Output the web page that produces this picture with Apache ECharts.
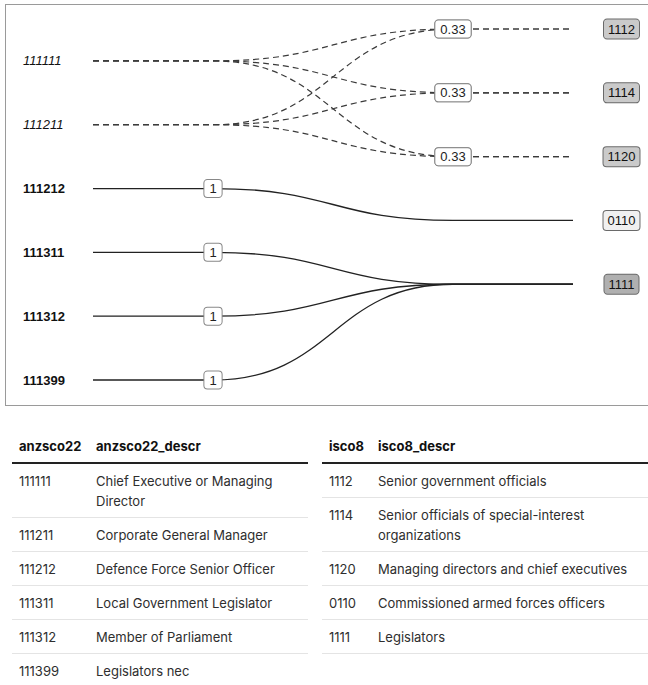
<!DOCTYPE html>
<html>
<head>
<meta charset="utf-8">
<script src="https://cdn.jsdelivr.net/npm/echarts@6/dist/echarts.min.js"></script>
<style>
  html, body { margin: 0; padding: 0; background: #fff; }
  body { width: 648px; height: 685px; overflow: hidden; position: relative; }
  #frame { position: absolute; left: 5px; top: 4px; width: 650px; height: 400px; border: 1px solid #9a9a9a; }
  #chart { width: 650px; height: 400px; }
  table { position: absolute; top: 428px; border-collapse: collapse; table-layout: fixed;
          font-family: Inter, "Liberation Sans", sans-serif; font-size: 13px; color: #2e2e2e; }
  th { text-align: left; font-weight: 700; color: #111; padding: 8px 7px 6px 7px; line-height: 20px;
       border-bottom: 2px solid #222; }
  td { padding: 7px 7px 6px 7px; line-height: 20px; vertical-align: top; border-bottom: 1px solid #e4e4e4; }
  #left { left: 12px; width: 296px; }
  #right { left: 322px; width: 340px; }
</style>
</head>
<body>
<div id="frame"><div id="chart"></div></div>
<table id="left"><colgroup><col style="width:77px"><col style="width:219px"></colgroup></table>
<table id="right"><colgroup><col style="width:49px"><col style="width:291px"></colgroup></table>
<script>
// classification codes on each side
var sourceCodes = ['111111', '111211', '111212', '111311', '111312', '111399'];
var sourceDescr = ['Chief Executive or Managing Director', 'Corporate General Manager',
    'Defence Force Senior Officer', 'Local Government Legislator', 'Member of Parliament', 'Legislators nec'];
var targetCodes = ['1112', '1114', '1120', '0110', '1111'];
var targetDescr = ['Senior government officials', 'Senior officials of special-interest organizations',
    'Managing directors and chief executives', 'Commissioned armed forces officers', 'Legislators'];

// crosswalk links
var linkFrom = ['111111', '111111', '111111', '111211', '111211', '111211', '111212', '111311', '111312', '111399'];
var linkTo = ['1112', '1114', '1120', '1112', '1114', '1120', '0110', '1111', '1111', '1111'];
var linkWeight = [0.33, 0.33, 0.33, 0.33, 0.33, 0.33, 1, 1, 1, 1];

var FONT = '"Liberation Sans", Arial, sans-serif';
// curve runs between the two weight label slots (x in 0..100)
var CURVE_START = 25, CURVE_END = 75;
var shades = ['#f0f0f0', '#cacaca', '#b0b0b0'];

function fillTable(id, head, codes, descr) {
    var t = document.getElementById(id);
    var html = '<thead><tr><th>' + head[0] + '</th><th>' + head[1] + '</th></tr></thead><tbody>';
    for (var i = 0; i < codes.length; i++) {
        html += '<tr><td>' + codes[i] + '</td><td>' + descr[i] + '</td></tr>';
    }
    t.insertAdjacentHTML('beforeend', html + '</tbody>');
}
fillTable('left', ['anzsco22', 'anzsco22_descr'], sourceCodes, sourceDescr);
fillTable('right', ['isco8', 'isco8_descr'], targetCodes, targetDescr);

// targets sit half a row above the sources
function targetY(j) { return j - 0.5; }

var links = linkFrom.map(function (s, k) {
    return [sourceCodes.indexOf(s), targetCodes.indexOf(linkTo[k]), linkWeight[k]];
});
var outCount = sourceCodes.map(function (s) {
    return linkFrom.filter(function (f) { return f === s; }).length;
});
var inCount = targetCodes.map(function (t) {
    return linkTo.filter(function (f) { return f === t; }).length;
});

function renderLink(params, api) {
    var s = api.value(0), t = api.value(1), w = api.value(2);
    var a = api.coord([0, s]), b = api.coord([CURVE_START, s]);
    var c = api.coord([CURVE_END, targetY(t)]), d = api.coord([100, targetY(t)]);
    var mx = (b[0] + c[0]) / 2;
    var style = {
        fill: null, stroke: w < 1 ? '#3a3a3a' : '#222', lineWidth: w < 1 ? 1.2 : 1.3,
        lineDash: w < 1 ? [6, 4] : null
    };
    return {
        type: 'group',
        children: [{
            type: 'path',
            shape: {
                pathData: 'M' + a[0] + ' ' + a[1] + 'L' + b[0] + ' ' + b[1] +
                    'C' + mx + ' ' + b[1] + ' ' + mx + ' ' + c[1] + ' ' + c[0] + ' ' + c[1]
            },
            style: style
        }, {
            // tail drawn apart so merged dashes stay in phase
            type: 'line',
            shape: {x1: c[0], y1: c[1], x2: d[0], y2: d[1]},
            style: style
        }]
    };
}

function renderWeight(params, api) {
    var s = api.value(0), t = api.value(1), w = api.value(2);
    var p = w < 1 ? api.coord([CURVE_END, targetY(t)]) : api.coord([CURVE_START, s]);
    return {
        type: 'text', x: p[0], y: p[1],
        style: {
            text: String(w), fill: '#222', fontSize: 13, fontFamily: FONT,
            align: 'center', verticalAlign: 'middle',
            backgroundColor: '#fff', borderColor: '#888', borderWidth: 1, borderRadius: 3, padding: [2, 5]
        }
    };
}

function renderSource(params, api) {
    var i = api.value(0);
    var p = api.coord([0, i]);
    var split = outCount[i] > 1;
    return {
        type: 'text', x: p[0] - 70, y: p[1],
        style: {
            text: sourceCodes[i], fill: '#111', fontFamily: FONT, fontSize: 13,
            fontStyle: split ? 'italic' : 'normal', fontWeight: split ? 'normal' : 'bold',
            align: 'left', verticalAlign: 'middle'
        }
    };
}

function renderTarget(params, api) {
    var j = api.value(0);
    var p = api.coord([100, targetY(j)]);
    return {
        type: 'text', x: p[0] + 48.5, y: p[1],
        style: {
            text: targetCodes[j], fill: '#111', fontSize: 13, fontFamily: FONT,
            align: 'center', verticalAlign: 'middle',
            backgroundColor: shades[Math.min(inCount[j], 3) - 1], borderColor: '#6a6a6a', borderWidth: 1,
            borderRadius: 3, padding: [3, 4]
        }
    };
}

var chart = echarts.init(document.getElementById('chart'), null, {renderer: 'svg'});
chart.setOption({
    animation: false,
    grid: {left: 87, top: 24, width: 480, height: 351},
    xAxis: {type: 'value', min: 0, max: 100, show: false},
    yAxis: {type: 'value', min: -0.5, max: 5, inverse: true, show: false},
    series: [
        {type: 'custom', name: 'links', renderItem: renderLink, data: links, z: 1, silent: true},
        {type: 'custom', name: 'weights', renderItem: renderWeight, data: links, z: 2, silent: true},
        {type: 'custom', name: 'sources', renderItem: renderSource,
            data: sourceCodes.map(function (c, i) { return [i, i]; }), z: 3, silent: true},
        {type: 'custom', name: 'targets', renderItem: renderTarget,
            data: targetCodes.map(function (c, j) { return [j, targetY(j)]; }), z: 3, silent: true}
    ]
});
</script>
</body>
</html>
